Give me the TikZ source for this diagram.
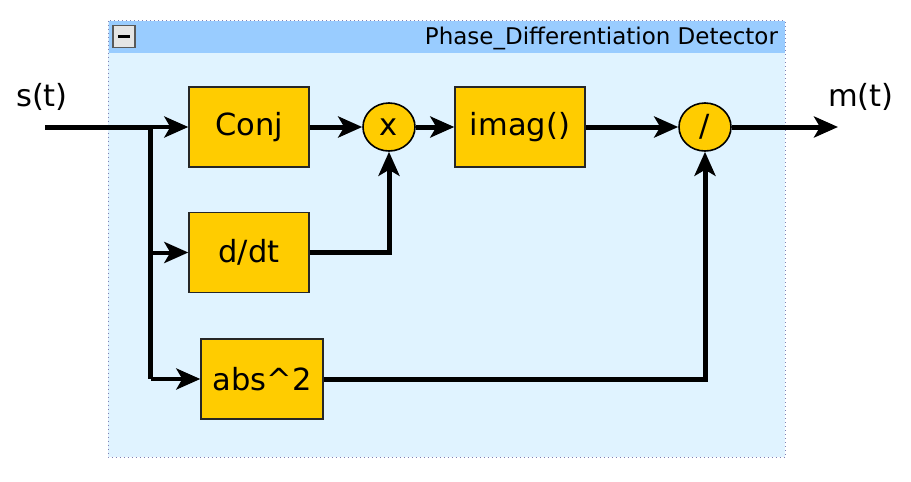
\documentclass[tikz,border=0pt]{standalone}
\usepackage{fontspec}
\setmainfont{DejaVu Sans}
\usepackage{tikz}
\usetikzlibrary{arrows.meta,positioning,shapes.geometric}
\definecolor{blockFill}{HTML}{FFCC00}
\definecolor{titleBar}{HTML}{99CCFF}
\definecolor{frameFill}{HTML}{E0F3FF}
\definecolor{frameLine}{HTML}{7F7FB2}
\tikzset {
	block/.style={rectangle, draw=black!85, line width=1.4pt, fill=blockFill, minimum width=120pt, minimum height=80pt, font=\fontsize{30.5}{36}\selectfont},
	operator/.style={ellipse, draw=black, line width=1.6pt, fill=blockFill, minimum width=52pt, minimum height=48pt, inner sep=0pt, font=\fontsize{30.5}{36}\selectfont},
	signal/.style={font=\fontsize{30.5}{36}\selectfont},
	wire/.style={line width=5pt, -{Stealth[length=24pt, width=21pt, inset=6pt]}},
	branch/.style={line width=4pt, -{Stealth[length=24pt, width=21pt, inset=6pt]}},
	trunk/.style={line width=5pt}
}
\begin{document}
\begin{tikzpicture}[x=1pt, y=-1pt]
					\useasboundingbox (0,0) rectangle (911,482);
					\draw[frameLine, line width=1pt, dash pattern=on 1pt off 3pt, fill=frameFill] (108,20.5) rectangle (785,457);
					\fill[titleBar] (108.5,21) rectangle (784.5,53);
					\node[rectangle, draw=black!65, line width=1.5pt, fill=black!10, minimum size=22pt, inner sep=0pt] (collapse) at (124,36.5) {};
					\draw[line width=3pt] ([xshift=-6pt]collapse.center) -- ([xshift=6pt]collapse.center);
					\node[anchor=base east, font=\fontsize{23}{28}\selectfont] (title) at (781.5,44) {Phase\_Differentiation Detector};
					\node[signal] (sig) at (42,97) {s(t)};
					\node[signal] (msg) at (861,97) {m(t)};
					\node[block] (conj) at (249,127) {Conj};
					\node[block] (ddt) at (249,252.5) {d/dt};
					\node[block, minimum width=122pt] (abssq) at (262,379) {abs\textasciicircum 2};
					\node[operator] (mult) at (389,127) {x};
					\node[block, minimum width=130pt] (imag) at (520,127) {imag()};
					\node[operator] (div) at (705,127) {/};
					\coordinate (in) at (45,127);
					\coordinate (split) at (150.5,127);
					\coordinate (out) at (838,127);
					\draw[trunk] (in) -- (split) -- (split |- abssq);
					\draw[branch] (split) -- (conj);
					\draw[branch] (split |- ddt) -- (ddt);
					\draw[branch] (split |- abssq) -- (abssq);
					\draw[wire] (conj) -- (mult);
					\draw[wire] (ddt) -| (mult);
					\draw[wire] (mult) -- (imag);
					\draw[wire] (imag) -- (div);
					\draw[wire] (abssq) -| (div);
					\draw[wire] (div) -- (out);
\end{tikzpicture}
\end{document}
